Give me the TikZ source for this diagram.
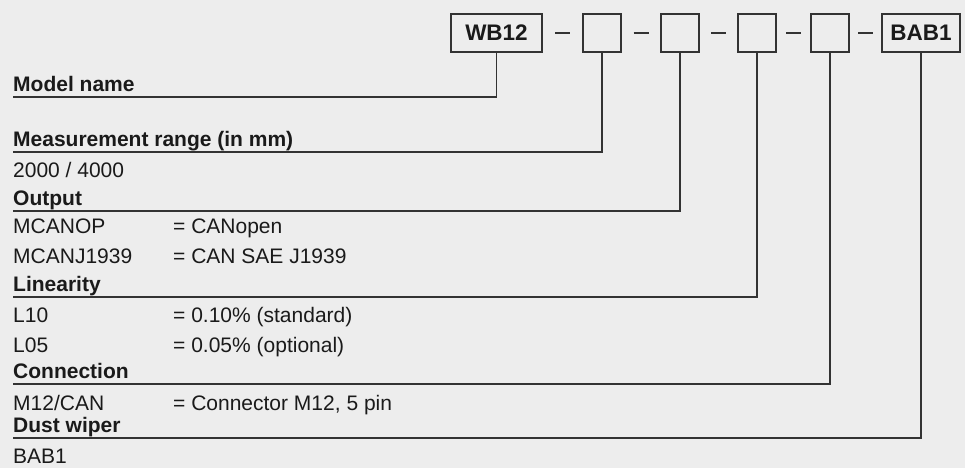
\documentclass[tikz,border=0pt]{standalone}
\usepackage{fontspec}
\setmainfont{Liberation Sans}
\usetikzlibrary{positioning,calc}
\definecolor{xbg}{RGB}{237,237,237}
\definecolor{xink}{RGB}{26,26,26}
\definecolor{xline}{RGB}{51,51,51}

\begin{document}
\begin{tikzpicture}[x=1pt, y=-1pt,
  codebox/.style={draw=xline, line width=1.3pt, minimum width=38pt, minimum height=38pt,
                  inner sep=0pt, font=\fontsize{22.5}{26}\selectfont\bfseries, text=xink},
  head/.style={anchor=south west, inner sep=0pt, text depth=5pt,
               font=\fontsize{21}{25}\selectfont\bfseries, text=xink},
  row/.style={anchor=base west, inner sep=0pt, font=\fontsize{21}{25}\selectfont, text=xink},
  lead/.style={draw=xline, line width=1.2pt}
]
  \fill[xbg] (0,0) rectangle (965,468);

  % Order code
  \node[codebox, minimum width=91pt] (model)  at (496.5,33) {WB12};
  \node[codebox]                     (range)  at (602,33)   {};
  \node[codebox]                     (output) at (680,33)   {};
  \node[codebox]                     (lin)    at (757,33)   {};
  \node[codebox]                     (conn)   at (830,33)   {};
  \node[codebox, minimum width=78pt] (wiper)  at (921,33)   {BAB1};

  \foreach \a/\b in {model/range, range/output, output/lin, lin/conn, conn/wiper}
    \draw[lead] ($(\a.east)!0.5!(\b.west)+(-7.5,0)$) -- ++(15,0);

  % Legend
  \node[head] (hmodel)  at (13,97)  {Model name};
  \node[head] (hrange)  at (13,152) {Measurement range (in mm)};
  \node[row]  (r2000)   at (13,177) {2000 / 4000};
  \node[head] (houtput) at (13,211) {Output};
  \node[row]  (canop)   at (13,233) {MCANOP};
  \node[row]  (canopv)  at (173,233) {= CANopen};
  \node[row]  (j1939)   at (13,263) {MCANJ1939};
  \node[row]  (j1939v)  at (173,263) {= CAN SAE J1939};
  \node[head] (hlin)    at (13,297) {Linearity};
  \node[row]  (l10)     at (13,322) {L10};
  \node[row]  (l10v)    at (173,322) {= 0.10\% (standard)};
  \node[row]  (l05)     at (13,352) {L05};
  \node[row]  (l05v)    at (173,352) {= 0.05\% (optional)};
  \node[head] (hconn)   at (13,384) {Connection};
  \node[row]  (m12)     at (13,410) {M12/CAN};
  \node[row]  (m12v)    at (173,410) {= Connector M12, 5 pin};
  \node[head] (hwiper)  at (13,438) {Dust wiper};
  \node[row]  (bab)     at (13,463) {BAB1};

  \draw[lead] (model.south)  |- (hmodel.south west);
  \draw[lead] (range.south)  |- (hrange.south west);
  \draw[lead] (output.south) |- (houtput.south west);
  \draw[lead] (lin.south)    |- (hlin.south west);
  \draw[lead] (conn.south)   |- (hconn.south west);
  \draw[lead] (wiper.south)  |- (hwiper.south west);
\end{tikzpicture}
\end{document}
